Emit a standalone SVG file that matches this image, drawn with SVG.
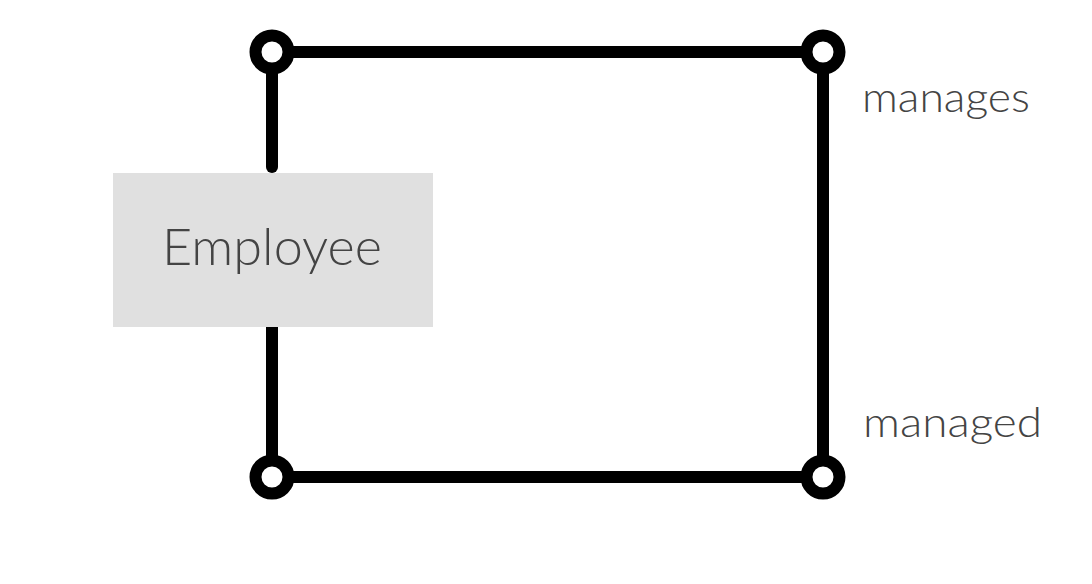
<svg xmlns="http://www.w3.org/2000/svg" width="1092" height="584" viewBox="0 0 1092 584">
<style>
.ln{stroke:#000;stroke-width:12;fill:none}
.dot{stroke:#000;stroke-width:12;fill:#fff}
.lbl{font-family:Lato,"Open Sans","Liberation Sans",sans-serif;font-weight:300;fill:#444}
</style>
<rect width="1092" height="584" fill="#fff"/>
<g id="connectors">
<line class="ln" x1="272" y1="52" x2="823" y2="52"/>
<line class="ln" x1="823" y1="52" x2="823" y2="477"/>
<line class="ln" x1="823" y1="477" x2="272" y2="477"/>
<line class="ln" x1="272" y1="52" x2="272" y2="167" stroke-linecap="round"/>
<line class="ln" x1="272" y1="327" x2="272" y2="477"/>
<circle class="dot" cx="272" cy="52" r="16.5"/>
<circle class="dot" cx="823" cy="52" r="16.5"/>
<circle class="dot" cx="272" cy="477" r="16.5"/>
<circle class="dot" cx="823" cy="477" r="16.5"/>
<text class="lbl" x="862" y="112" font-size="42" textLength="168" lengthAdjust="spacingAndGlyphs">manages</text>
<text class="lbl" x="863" y="437" font-size="42" textLength="179" lengthAdjust="spacingAndGlyphs">managed</text>
</g>
<g id="employee">
<rect x="113" y="173" width="320" height="154" fill="#e0e0e0"/>
<text class="lbl" x="162" y="265" font-size="52" textLength="220" lengthAdjust="spacingAndGlyphs">Employee</text>
</g>
</svg>
